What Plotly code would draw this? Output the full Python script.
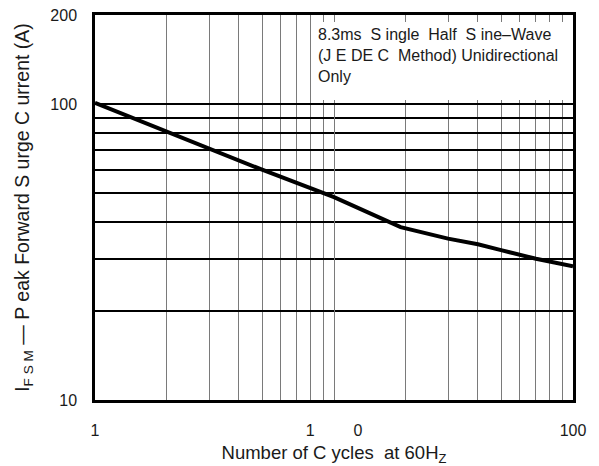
import plotly.graph_objects as go

# Data
cycles = [1, 2, 3, 5, 10, 19, 30, 40, 50, 70, 100]
current = [101, 80.6, 70.5, 60, 48.5, 38.4, 35.1, 33.6, 32.1, 30.0, 28.3]

x_major_vals = [1, 10, 100]
x_tick_labels = ["1", "1" + "\u00a0" * 8 + "\u2009" + "0", "100"]
x_minor_vals = [2, 3, 4, 5, 6, 7, 8, 9, 20, 30, 40, 50, 60, 70, 80, 90]
y_major_vals = [10, 100, 200]
y_tick_labels = ["10", "100", "200"]
y_minor_vals = [20, 30, 40, 50, 60, 70, 80, 90]

note_text = ("8.3ms\u00a0 S ingle\u00a0 Half\u00a0 S ine\u2013Wave<br>"
             "(J E DE C\u00a0 Method) Unidirectional<br>Only")
x_title = "Number of C ycles\u00a0 at 60H<sub>Z</sub>"
y_title = "I<sub>F S M</sub> \u2014 P eak Forward S urge C urrent (A)"

FONT = "Liberation Sans, Arial, Helvetica, sans-serif"
TXT = "#1a1a1a"

fig = go.Figure()
fig.add_trace(go.Scatter(
    x=cycles, y=current, mode="lines",
    line=dict(color="black", width=4),
    hoverinfo="skip", showlegend=False,
))

fig.update_layout(
    width=599, height=466,
    margin=dict(l=95, r=26, t=15, b=66, autoexpand=False),
    paper_bgcolor="white", plot_bgcolor="white",
    font=dict(family=FONT, color=TXT, size=16),
    xaxis=dict(
        type="log", range=[0, 2], automargin=False,
        tickmode="array", tickvals=x_major_vals, ticktext=x_tick_labels,
        showgrid=True, gridcolor="#7a7a7a", gridwidth=1,
        minor=dict(tickmode="array", tickvals=x_minor_vals, showgrid=True,
                   gridcolor="#7a7a7a", gridwidth=1, ticks=""),
        showline=True, linecolor="black", linewidth=2.5, mirror=True,
        ticks="", ticklabelstandoff=14,
        tickfont=dict(size=16, color=TXT, family=FONT),
        title=dict(text=x_title, font=dict(size=18.5, color=TXT, family=FONT), standoff=12),
        zeroline=False,
    ),
    yaxis=dict(
        type="log", range=[1, 2.30103], automargin=False,
        tickmode="array", tickvals=y_major_vals, ticktext=y_tick_labels,
        showgrid=True, gridcolor="black", gridwidth=2,
        minor=dict(tickmode="array", tickvals=y_minor_vals, showgrid=True,
                   gridcolor="black", gridwidth=2, ticks=""),
        showline=True, linecolor="black", linewidth=2.5, mirror=True,
        ticks="", ticklabelstandoff=12,
        tickfont=dict(size=16, color=TXT, family=FONT),
        title=dict(text=y_title, font=dict(size=19.5, color=TXT, family=FONT), standoff=16),
        zeroline=False,
    ),
    annotations=[dict(
        text=note_text, xref="paper", yref="paper",
        x=(314 - 95) / 478, y=1 - 7 / 385, xanchor="left", yanchor="top",
        showarrow=False, align="left", valign="top",
        width=249, height=70, borderpad=4, borderwidth=0, bgcolor="white",
        font=dict(size=16, color=TXT, family=FONT),
    )],
)

fig.write_html("out.html")
